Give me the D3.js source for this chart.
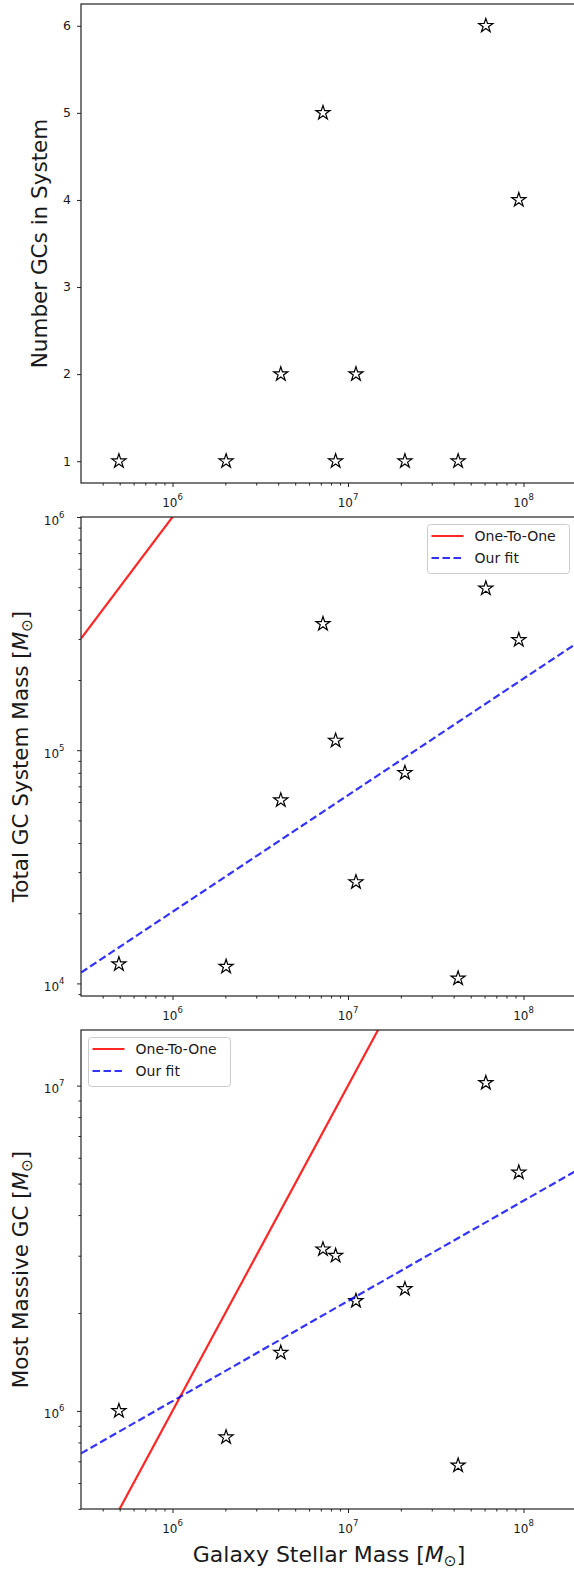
<!DOCTYPE html>
<html lang="en">
<head>
<meta charset="utf-8">
<title>GC systems vs galaxy stellar mass</title>
<script src="https://d3js.org/d3.v7.min.js"></script>
<style>
  body { margin: 0; background: #fff; }
  svg { display: block; font-family: "DejaVu Sans", sans-serif; }
</style>
</head>
<body>
<script>
// values, one entry per galaxy
const galaxyMass  = [4.95e5, 2.02e6, 4.14e6, 7.2e6, 8.5e6, 1.11e7, 2.11e7, 4.24e7, 6.1e7, 9.4e7];
const numGCs      = [1, 1, 2, 5, 1, 2, 1, 1, 6, 4];
const totalGCMass = [1.21e4, 1.18e4, 6.1e4, 3.48e5, 1.10e5, 2.72e4, 8.0e4, 1.05e4, 4.94e5, 2.97e5];
const maxGCMass   = [1.0e6, 8.3e5, 1.51e6, 3.14e6, 3.0e6, 2.18e6, 2.37e6, 6.8e5, 1.02e7, 5.41e6];

// log-log fits (log10 y = slope * log10 x + intercept)
const totalFit = {slope: 0.5, intercept: 1.307};
const maxFit   = {slope: 0.308, intercept: 4.182};

// axis limits (log10)
const xLimits      = [5.4786, 8.3048];
const totalLimits  = [3.946, 6.0];
const maxLimits    = [5.6985, 7.171];
const countLimits  = [0.75, 6.25];

const xMajor     = [1e6, 1e7, 1e8];
const countTicks = [1, 2, 3, 4, 5, 6];
const totalMajor = [1e4, 1e5, 1e6];
const maxMajor   = [1e6, 1e7];
const legendNames = ["One-To-One", "Our fit"];

const width = 574, height = 1570;
const plotLeft = 81, plotRight = 577, plotHeight = 479;
const tops = [4, 517, 1030];
const textColor = "#1a1a1a";

const svg = d3.select("body").append("svg")
    .attr("width", width).attr("height", height);

const x = d3.scaleLog()
    .domain(xLimits.map(d => Math.pow(10, d)))
    .range([plotLeft, plotRight]);

function minorTicks(scale) {
    const [lo, hi] = scale.domain();
    const out = [];
    for (let e = Math.floor(Math.log10(lo)); e <= Math.ceil(Math.log10(hi)); e++) {
        for (let k = 2; k <= 9; k++) {
            const v = k * Math.pow(10, e);
            if (v >= lo && v <= hi) out.push(v);
        }
    }
    return out;
}

function powLabel(g, v, px, py, anchor) {
    const t = g.append("text")
        .attr("x", px).attr("y", py)
        .attr("text-anchor", anchor)
        .attr("font-size", 12)
        .attr("fill", textColor);
    t.append("tspan").text("10");
    t.append("tspan").attr("dy", -7).attr("font-size", 8.5)
        .text(Math.round(Math.log10(v)));
}

function massLabel(t, base) {
    t.append("tspan").text(base + " [");
    t.append("tspan").attr("font-style", "italic").text("M");
    t.append("tspan").attr("dy", 4).attr("font-size", "0.7em").text("\u2299");
    t.append("tspan").attr("dy", -4).text("]");
}

function tickStyle(g) {
    g.select(".domain").remove();
    g.selectAll("line").attr("stroke", "#222").attr("stroke-width", 1);
}

const starPath = d3.symbol().type(d3.symbolStar).size(62);

function drawPanel(p) {
    const top = p.top, bottom = top + plotHeight;
    const y = p.y.range([bottom, top]);
    const g = svg.append("g");

    const clipId = "clip" + top;
    g.append("clipPath").attr("id", clipId)
        .append("rect").attr("x", plotLeft).attr("y", top)
        .attr("width", plotRight - plotLeft).attr("height", plotHeight);

    // x ticks
    g.append("g").attr("transform", `translate(0,${bottom})`)
        .call(d3.axisBottom(x).tickValues(xMajor).tickSize(4).tickFormat(""))
        .call(tickStyle);
    g.append("g").attr("transform", `translate(0,${bottom})`)
        .call(d3.axisBottom(x).tickValues(minorTicks(x)).tickSize(2.5).tickFormat(""))
        .call(tickStyle);
    xMajor.forEach(v => powLabel(g, v, x(v), bottom + 24, "middle"));

    // y ticks
    if (p.log) {
        g.append("g").attr("transform", `translate(${plotLeft},0)`)
            .call(d3.axisLeft(y).tickValues(p.major).tickSize(4).tickFormat(""))
            .call(tickStyle);
        g.append("g").attr("transform", `translate(${plotLeft},0)`)
            .call(d3.axisLeft(y).tickValues(minorTicks(y)).tickSize(2.5).tickFormat(""))
            .call(tickStyle);
        p.major.forEach(v => powLabel(g, v, plotLeft - 16.5, y(v) + 7.5, "end"));
    } else {
        g.append("g").attr("transform", `translate(${plotLeft},0)`)
            .call(d3.axisLeft(y).tickValues(p.major).tickSize(4).tickFormat(""))
            .call(tickStyle);
        p.major.forEach(v => g.append("text")
            .attr("x", plotLeft - 10).attr("y", y(v) + 4.3)
            .attr("text-anchor", "end").attr("font-size", 12.5)
            .attr("fill", textColor).text(v));
    }

    // y axis title
    const yt = g.append("text")
        .attr("transform", `translate(${p.labelX},${(top + bottom) / 2}) rotate(-90)`)
        .attr("text-anchor", "middle").attr("font-size", 21.5)
        .attr("fill", textColor);
    if (p.unit) massLabel(yt, p.label); else yt.text(p.label);

    // stars
    g.append("g").selectAll("path")
        .data(galaxyMass.map((m, i) => [m, p.values[i]]))
        .join("path")
        .attr("d", starPath)
        .attr("transform", d => `translate(${x(d[0])},${y(d[1])})`)
        .attr("fill", "none").attr("stroke", "#000").attr("stroke-width", 1.2);

    // one-to-one and fit lines
    if (p.fit) {
        const lines = g.append("g").attr("clip-path", `url(#${clipId})`);
        const line = d3.line().x(d => x(d[0])).y(d => y(d[1]));
        const xs = x.domain();
        lines.append("path")
            .attr("d", line(xs.map(v => [v, v])))
            .attr("fill", "none").attr("stroke", "red")
            .attr("stroke-opacity", 0.85).attr("stroke-width", 2.2);
        lines.append("path")
            .attr("d", line(xs.map(v => [v, Math.pow(10, p.fit.slope * Math.log10(v) + p.fit.intercept)])))
            .attr("fill", "none").attr("stroke", "blue")
            .attr("stroke-opacity", 0.8).attr("stroke-width", 2.2)
            .attr("stroke-dasharray", "7.5,3.5");

        // legend
        const lw = 142, lh = 49;
        const lx = p.legendRight ? plotRight - 7.5 - lw : plotLeft + 7.5;
        const ly = top + 7.5;
        const lg = g.append("g").attr("transform", `translate(${lx},${ly})`);
        lg.append("rect").attr("width", lw).attr("height", lh).attr("rx", 3)
            .attr("fill", "#fff").attr("fill-opacity", 0.8)
            .attr("stroke", "#cccccc").attr("stroke-width", 1);
        legendNames.forEach((name, i) => {
            const ry = 11.5 + i * 22;
            lg.append("line").attr("x1", 4).attr("x2", 36).attr("y1", ry).attr("y2", ry)
                .attr("stroke", i ? "blue" : "red")
                .attr("stroke-opacity", i ? 0.8 : 0.85)
                .attr("stroke-width", 2.2)
                .attr("stroke-dasharray", i ? "7.5,3.5" : null);
            lg.append("text").attr("x", 47).attr("y", ry + 5)
                .attr("font-size", 14).attr("fill", textColor).text(name);
        });
    }

    // frame
    g.append("rect").attr("x", plotLeft).attr("y", top)
        .attr("width", plotRight - plotLeft).attr("height", plotHeight)
        .attr("fill", "none").attr("stroke", "#222").attr("stroke-width", 1.2);
}

drawPanel({
    top: tops[0], y: d3.scaleLinear().domain(countLimits), log: false,
    major: countTicks, values: numGCs, label: "Number GCs in System", labelX: 46.5
});
drawPanel({
    top: tops[1], y: d3.scaleLog().domain(totalLimits.map(d => Math.pow(10, d))), log: true,
    major: totalMajor, values: totalGCMass, label: "Total GC System Mass", unit: true,
    labelX: 27.5, fit: totalFit, legendRight: true
});
drawPanel({
    top: tops[2], y: d3.scaleLog().domain(maxLimits.map(d => Math.pow(10, d))), log: true,
    major: maxMajor, values: maxGCMass, label: "Most Massive GC", unit: true,
    labelX: 27.5, fit: maxFit, legendRight: false
});

// shared x title
const xt = svg.append("text")
    .attr("x", (plotLeft + plotRight) / 2).attr("y", 1562)
    .attr("text-anchor", "middle").attr("font-size", 22)
    .attr("fill", textColor);
massLabel(xt, "Galaxy Stellar Mass");
</script>
</body>
</html>
